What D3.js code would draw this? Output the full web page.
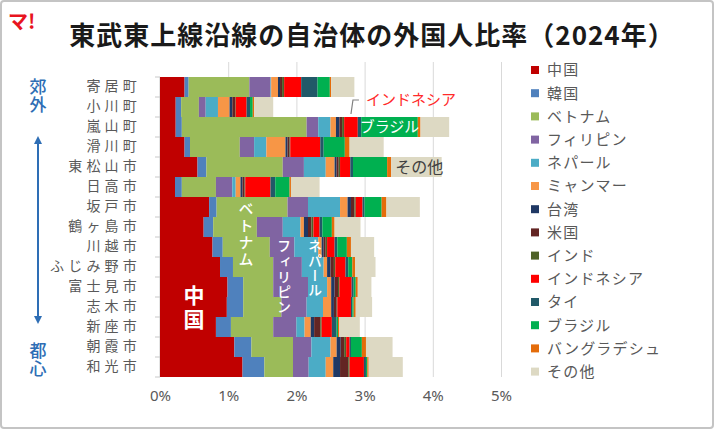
<!DOCTYPE html>
<html>
<head>
<meta charset="utf-8">
<script src="https://cdn.jsdelivr.net/npm/d3@7"></script>
<style>
  body { margin: 0; background: #fff; }
  svg { display: block; font-family: "Noto Sans CJK JP", "Noto Sans", sans-serif; }
</style>
</head>
<body>
<svg id="chart" width="714" height="429"></svg>
<script>
// municipalities, from the suburbs (top) to central Tokyo (bottom)
const towns = ["寄居町", "小川町", "嵐山町", "滑川町", "東松山市", "日高市", "坂戸市", "鶴ヶ島市",
    "川越市", "ふじみ野市", "富士見市", "志木市", "新座市", "朝霞市", "和光市"];

const nations = ["中国", "韓国", "ベトナム", "フィリピン", "ネパール", "ミャンマー", "台湾", "米国",
    "インド", "インドネシア", "タイ", "ブラジル", "バングラデシュ", "その他"];

// share of population, in %
const china      = [0.36, 0.23, 0.23, 0.36, 0.55, 0.22, 0.72, 0.64, 0.77, 0.88, 0.99, 0.98, 0.82, 1.09, 1.21];
const korea      = [0.06, 0.08, 0.09, 0.08, 0.13, 0.10, 0.11, 0.14, 0.15, 0.19, 0.23, 0.24, 0.22, 0.25, 0.32];
const vietnam    = [0.89, 0.26, 1.83, 0.73, 1.12, 0.50, 1.04, 0.64, 0.69, 0.59, 0.44, 0.56, 0.62, 0.61, 0.42];
const philippines= [0.31, 0.10, 0.17, 0.21, 0.31, 0.24, 0.30, 0.38, 0.36, 0.42, 0.51, 0.37, 0.34, 0.27, 0.23];
const nepal      = [0.01, 0.18, 0.18, 0.18, 0.32, 0.05, 0.47, 0.26, 0.35, 0.32, 0.28, 0.24, 0.12, 0.28, 0.25];
const myanmar    = [0.10, 0.17, 0.08, 0.28, 0.13, 0.07, 0.11, 0.05, 0.05, 0.05, 0.06, 0.12, 0.09, 0.09, 0.11];
const taiwan     = [0.03, 0.04, 0.05, 0.03, 0.03, 0.03, 0.05, 0.06, 0.03, 0.05, 0.05, 0.04, 0.05, 0.06, 0.10];
const usa        = [0.03, 0.04, 0.04, 0.03, 0.03, 0.03, 0.05, 0.05, 0.03, 0.05, 0.05, 0.04, 0.09, 0.05, 0.12];
const india      = [0.03, 0.01, 0.03, 0.01, 0.02, 0.01, 0.02, 0.03, 0.02, 0.02, 0.02, 0.01, 0.02, 0.03, 0.02];
const indonesia  = [0.25, 0.16, 0.20, 0.44, 0.15, 0.37, 0.10, 0.09, 0.11, 0.15, 0.18, 0.20, 0.15, 0.05, 0.21];
const thailand   = [0.24, 0.05, 0.05, 0.05, 0.04, 0.07, 0.03, 0.04, 0.04, 0.04, 0.03, 0.02, 0.07, 0.02, 0.03];
const brazil     = [0.18, 0.04, 0.83, 0.31, 0.50, 0.21, 0.25, 0.14, 0.14, 0.06, 0.03, 0.02, 0.02, 0.16, 0.02];
const bangladesh = [0.02, 0.02, 0.04, 0.07, 0.06, 0.02, 0.07, 0.04, 0.06, 0.04, 0.03, 0.03, 0.02, 0.06, 0.02];
const others     = [0.34, 0.28, 0.42, 0.50, 0.74, 0.42, 0.49, 0.38, 0.34, 0.30, 0.20, 0.24, 0.30, 0.39, 0.50];

const xTicks = [0, 1, 2, 3, 4, 5];

const colors = ["#c00000", "#4f81bd", "#9bbb59", "#8064a2", "#4bacc6", "#f79646", "#1f3864",
    "#632523", "#4f6228", "#ff0000", "#215968", "#00b050", "#e46c0a", "#ddd9c3"];

const seriesValues = [china, korea, vietnam, philippines, nepal, myanmar, taiwan, usa,
    india, indonesia, thailand, brazil, bangladesh, others];

// table for d3.stack
const table = towns.map((t, i) => {
    const row = { town: t };
    nations.forEach((n, k) => row[n] = seriesValues[k][i]);
    return row;
});

const svg = d3.select("#chart");

const margin = { left: 160, right: 213, top: 77, bottom: 52 };
const width = 714, height = 429;

const x = d3.scaleLinear()
    .domain([0, 5])
    .range([margin.left, width - margin.right]);

const y = d3.scaleBand()
    .domain(towns)
    .range([margin.top, height - margin.bottom])
    .padding(0);

const color = d3.scaleOrdinal().domain(nations).range(colors);

// frame
svg.append("rect")
    .attr("x", 1).attr("y", 1)
    .attr("width", width - 2).attr("height", height - 2)
    .attr("rx", 3)
    .attr("fill", "#fff")
    .attr("stroke", "#c4c4c4")
    .attr("stroke-width", 2);

// logo + title
svg.append("text")
    .attr("x", 8).attr("y", 29)
    .attr("font-size", 20).attr("font-weight", 700)
    .attr("fill", "#e8141e")
    .text("マ!");

svg.append("text")
    .attr("x", 372).attr("y", 45)
    .attr("text-anchor", "middle")
    .attr("font-size", 26).attr("font-weight", 700)
    .attr("letter-spacing", 1)
    .attr("fill", "#1a1a1a")
    .text("東武東上線沿線の自治体の外国人比率（2024年）");

// grid lines
svg.append("g")
    .attr("class", "grid")
    .attr("transform", `translate(0,${y.range()[1]})`)
    .call(d3.axisBottom(x).tickValues(xTicks.slice(1)).tickSize(-(y.range()[1] - 62)).tickFormat(""))
    .call(g => g.select(".domain").remove())
    .call(g => g.selectAll("line").attr("stroke", "#d9d9d9"));

// y axis line with ticks at band edges
const edges = towns.map(t => y(t)).concat([y.range()[1]]);
svg.append("g")
    .selectAll("line")
    .data(edges)
    .join("line")
    .attr("x1", margin.left - 5).attr("x2", margin.left)
    .attr("y1", d => d).attr("y2", d => d)
    .attr("stroke", "#c8c8c8");
svg.append("line")
    .attr("x1", margin.left).attr("x2", margin.left)
    .attr("y1", y.range()[0]).attr("y2", y.range()[1])
    .attr("stroke", "#c8c8c8");

// stacked bars
const stacked = d3.stack().keys(nations)(table);

svg.append("g")
    .selectAll("g")
    .data(stacked)
    .join("g")
    .attr("fill", d => color(d.key))
    .selectAll("rect")
    .data(d => d)
    .join("rect")
    .attr("x", d => x(d[0]))
    .attr("y", d => y(d.data.town))
    .attr("width", d => x(d[1]) - x(d[0]))
    .attr("height", y.bandwidth());

// axes
svg.append("g")
    .attr("transform", `translate(${margin.left - 19},0)`)
    .call(d3.axisLeft(y).tickSize(0).tickPadding(0))
    .call(g => g.select(".domain").remove())
    .call(g => g.selectAll("text")
        .attr("font-size", 14)
        .attr("letter-spacing", 4.2)
        .attr("fill", "#595959")
        .attr("font-family", "Noto Sans CJK JP"));

svg.append("g")
    .attr("transform", `translate(0,${height - 28})`)
    .call(d3.axisBottom(x).tickValues(xTicks).tickSize(0).tickPadding(0).tickFormat(d => d + "%"))
    .call(g => g.select(".domain").remove())
    .call(g => g.selectAll("text")
        .attr("dy", 0)
        .attr("font-size", 15)
        .attr("fill", "#595959")
        .attr("font-family", "Noto Sans, sans-serif"));

// legend
const legend = svg.append("g")
    .selectAll("g")
    .data(nations)
    .join("g")
    .attr("transform", (d, i) => `translate(531,${70 + i * 23.2})`);
legend.append("rect")
    .attr("x", 0).attr("y", -4)
    .attr("width", 8).attr("height", 8)
    .attr("fill", d => color(d));
legend.append("text")
    .attr("x", 16).attr("y", 0)
    .attr("dy", "0.36em")
    .attr("font-size", 15)
    .attr("letter-spacing", 1.2)
    .attr("fill", "#595959")
    .text(d => d);

// labels inside the bars, written top to bottom
const seg = (key, town) => stacked[nations.indexOf(key)][towns.indexOf(town)];

function vertical(label, cx, top, size, spacing, weight, fill) {
    svg.append("text")
        .attr("x", cx)
        .attr("y", top)
        .attr("writing-mode", "vertical-rl")
        .attr("font-size", size)
        .attr("letter-spacing", spacing)
        .attr("font-weight", weight)
        .attr("fill", fill)
        .text(label);
}
vertical("ベトナム", 246, 201, 15, 2, 500, "#fff");
vertical("フィリピン", 284, 239, 14, 1.2, 500, "#fff");
vertical("ネパール", 315, 239, 14, 0.6, 500, "#fff");
vertical("中国", 194, 285, 21, 3, 700, "#fff");

// callouts on the right
const br = seg("ブラジル", "嵐山町");
svg.append("text")
    .attr("x", (x(br[0]) + x(br[1])) / 2).attr("y", y("嵐山町") + y.bandwidth() / 2)
    .attr("text-anchor", "middle").attr("dy", "0.36em")
    .attr("font-size", 15).attr("fill", "#fff")
    .text("ブラジル");

const ot = seg("その他", "東松山市");
svg.append("text")
    .attr("x", x(ot[0]) + 4).attr("y", y("東松山市") + y.bandwidth() / 2)
    .attr("dy", "0.36em")
    .attr("font-size", 16).attr("fill", "#404040")
    .text("その他");

const idn = seg("インドネシア", "嵐山町");
const ix = (x(idn[0]) + x(idn[1])) / 2;
svg.append("path")
    .attr("d", `M${ix + 8},${y("小川町") + 3}H${ix + 2}L${ix},${y("嵐山町") - 3}`)
    .attr("fill", "none")
    .attr("stroke", "#808080")
    .attr("stroke-width", 1.2);
svg.append("text")
    .attr("x", ix + 15).attr("y", y("小川町") + 3)
    .attr("dy", "0.36em")
    .attr("font-size", 15).attr("fill", "#ff2a2a")
    .text("インドネシア");

// suburb / city-centre marker on the far left
const blue = "#2e6eb5";
vertical("郊外", 38, 78, 17, 1, 500, blue);
vertical("都心", 38, 342, 17, 1, 500, blue);

svg.append("defs").append("marker")
    .attr("id", "head")
    .attr("viewBox", "0 0 10 10")
    .attr("refX", 5).attr("refY", 5)
    .attr("markerWidth", 4).attr("markerHeight", 4)
    .attr("orient", "auto-start-reverse")
    .append("path")
    .attr("d", "M0,0L10,5L0,10Z")
    .attr("fill", blue);
svg.append("line")
    .attr("x1", 38).attr("x2", 38)
    .attr("y1", 140).attr("y2", 320)
    .attr("stroke", blue).attr("stroke-width", 2)
    .attr("marker-start", "url(#head)")
    .attr("marker-end", "url(#head)");
</script>
</body>
</html>
